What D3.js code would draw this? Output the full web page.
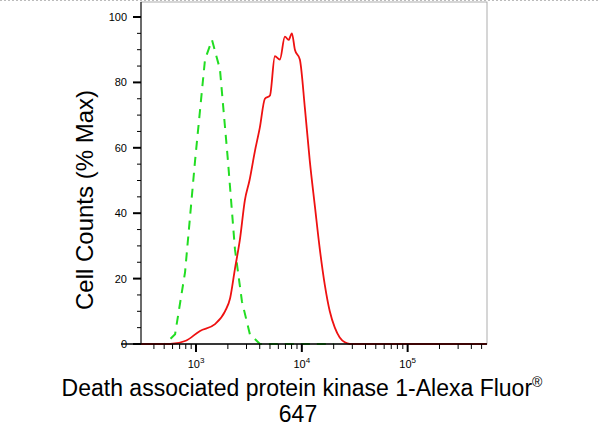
<!DOCTYPE html><html><head><meta charset="utf-8"><script src="https://cdn.jsdelivr.net/npm/d3@7"></script>
<style>body{margin:0;background:#fff}text{font-family:Arial,"Liberation Sans",sans-serif}</style></head><body><svg id="c" width="598" height="433"></svg><script>
const redX=[300,569,800,1091,1500,1879,2100,2333,2600,2897,3200,3603,4000,4477,5000,5560,6200,6914,7500,8054,8600,9575,10700,11890,13300,14790,16500,18370,20500,22810,25500,28370,40000,560000];
const redY=[0,0,1,4,6,10,14,23,32,44,50,59,66,75,76,88,87,94,93,95,90,87,72,56,42,29,18,10,5,2,0.5,0,0,0];
const grnX=[300,510,634,788,979,1216,1416,1683,2004,2333,2717,3229,4016,20000];
const grnY=[0,0,3,22,56,87,93,84,56,29,13,3,0,0];
const yTicks=[0,20,40,60,80,100];
const svg=d3.select("#c");
const L=141,R=487,T=2,B=344;
const x=d3.scaleLog().domain([Math.pow(10,2.48),Math.pow(10,5.75)]).range([L,R]);
const y=d3.scaleLinear().domain([0,100]).range([B,17]);
svg.append("rect").attr("x",L).attr("y",T).attr("width",R-L).attr("height",B-T).attr("fill","none").attr("stroke","#999").attr("stroke-width",0.8);
svg.append("line").attr("x1",0).attr("x2",598).attr("y1",0.5).attr("y2",0.5).attr("stroke","#bbb").attr("stroke-dasharray","2,2");
const line=d3.line().x(d=>x(d[0])).y(d=>y(d[1]));
svg.append("path").datum(grnX.map((v,i)=>[v,grnY[i]])).attr("d",line).attr("fill","none").attr("stroke","#22dd22").attr("stroke-width",2).attr("stroke-dasharray","9,7");
svg.append("path").datum(redX.map((v,i)=>[v,redY[i]])).attr("d",line.curve(d3.curveMonotoneX)).attr("fill","none").attr("stroke","#ee1111").attr("stroke-width",1.8);
const ya=svg.append("g").attr("transform",`translate(${L},0)`);
ya.append("line").attr("y1",T).attr("y2",B).attr("stroke","#000");
d3.range(0,101,5).forEach(v=>{const major=v%20===0;ya.append("line").attr("x1",major?-8:-4).attr("x2",0).attr("y1",y(v)).attr("y2",y(v)).attr("stroke","#000").attr("stroke-width",major?2:1);});
yTicks.forEach(v=>ya.append("text").attr("x",-14).attr("y",y(v)+4).attr("text-anchor","end").attr("font-size",11).text(v));
const xa=svg.append("g").attr("transform",`translate(0,${B})`);
xa.append("line").attr("x1",L-20).attr("x2",R).attr("stroke","#000").attr("stroke-width",1.5);
for(let e=2;e<=5;e++)for(let m=1;m<10;m++){const v=m*Math.pow(10,e);if(v<x.domain()[0]||v>x.domain()[1])continue;const major=m===1;xa.append("line").attr("x1",x(v)).attr("x2",x(v)).attr("y1",0).attr("y2",major?8:5).attr("stroke","#000").attr("stroke-width",major?2:1);}
[3,4,5].forEach(e=>{const t=xa.append("text").attr("x",x(Math.pow(10,e))).attr("y",24).attr("text-anchor","middle").attr("font-size",11);t.append("tspan").text("10");t.append("tspan").attr("dy",-5).attr("font-size",8).text(e);});
svg.append("text").attr("x",302).attr("y",396).attr("text-anchor","middle").attr("font-size",23).html('Death associated protein kinase 1-Alexa Fluor<tspan dy="-9" font-size="14">®</tspan>');
svg.append("text").attr("x",298).attr("y",422).attr("text-anchor","middle").attr("font-size",23).text("647");
svg.append("text").attr("transform","translate(93,200) rotate(-90)").attr("text-anchor","middle").attr("font-size",24).text("Cell Counts (% Max)");
</script></body></html>
